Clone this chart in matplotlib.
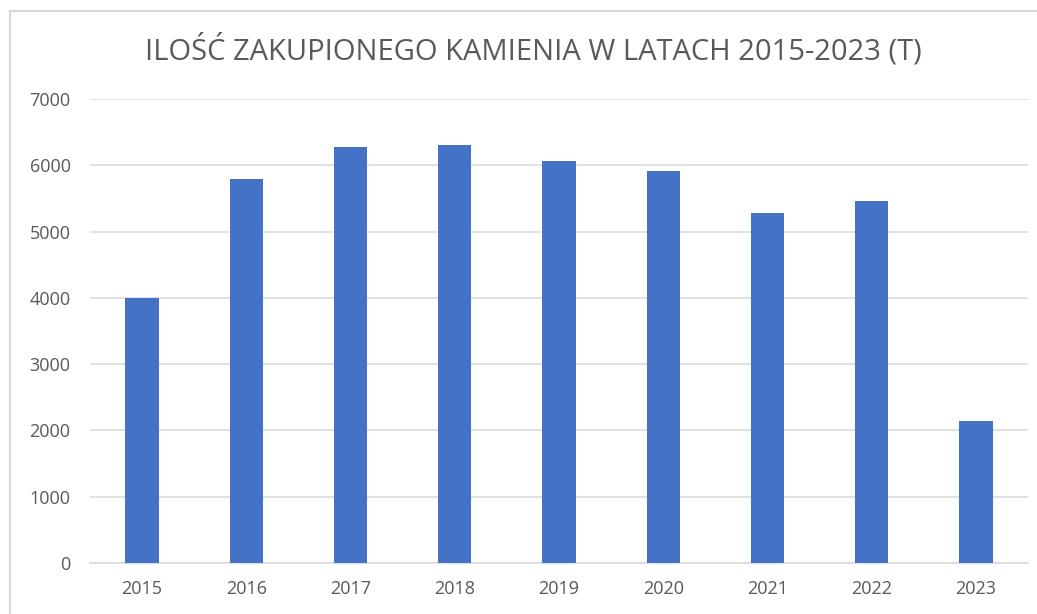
import matplotlib.pyplot as plt
from matplotlib.patches import Rectangle

years = ['2015', '2016', '2017', '2018', '2019', '2020', '2021', '2022', '2023']
tonnes = [4000, 5790, 6280, 6310, 6060, 5920, 5280, 5465, 2145]
y_ticks = [0, 1000, 2000, 3000, 4000, 5000, 6000, 7000]

text_gray = '#595959'
grid_gray = '#D9D9D9'
bar_blue = '#4472C4'

fig = plt.figure(figsize=(10.37, 6.14), dpi=100)
ax = fig.add_axes([90 / 1037, 1 - 563 / 614, (1028 - 90) / 1037, (563 - 99) / 614])

# ramka wykresu
fig.patches.append(Rectangle((10 / 1037, -0.05), 1.1, 1 - 11 / 614 + 0.05,
                             transform=fig.transFigure, fill=False,
                             edgecolor='#D9D9D9', linewidth=1.5))

x = range(len(years))
ax.bar(x, tonnes, width=0.32, color=bar_blue, zorder=3)

ax.set_xlim(-0.5, len(years) - 0.5)
ax.set_ylim(0, 7000)
ax.set_yticks(y_ticks)
ax.set_xticks(list(x))
ax.set_xticklabels(years)
ax.grid(axis='y', color=grid_gray, linewidth=1.1, zorder=0)
ax.set_axisbelow(True)

for s in ['top', 'right', 'left']:
    ax.spines[s].set_visible(False)
ax.spines['bottom'].set_color(grid_gray)
ax.spines['bottom'].set_linewidth(1.1)

ax.tick_params(axis='both', length=0, labelsize=13, labelcolor=text_gray,
               labelfontfamily='Open Sans')
ax.tick_params(axis='y', pad=14)
ax.tick_params(axis='x', pad=12)

fig.text(533 / 1037, 1 - 50 / 614, 'ILOŚĆ ZAKUPIONEGO KAMIENIA W LATACH 2015-2023 (T)',
         ha='center', va='center', fontsize=21, color=text_gray,
         family='Open Sans', fontweight='normal')

plt.savefig('out.png', dpi=100)
